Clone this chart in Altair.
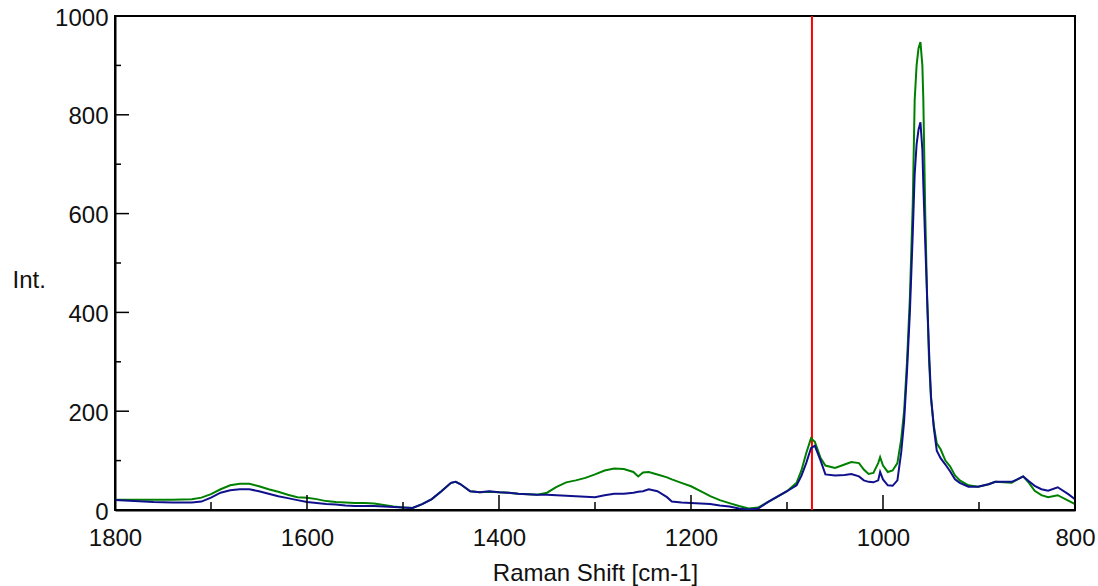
import altair as alt
import pandas as pd

# Raman shift grid (cm-1) and intensities of the two spectra
shift = [1800, 1780, 1760, 1740, 1720, 1710, 1700, 1690, 1680, 1670, 1660, 1650, 1640, 1630,
         1620, 1610, 1600, 1590, 1580, 1570, 1560, 1550, 1540, 1530, 1520, 1510, 1500, 1490,
         1480, 1470, 1460, 1450, 1445, 1440, 1430, 1420, 1410, 1400, 1390, 1380, 1370, 1360,
         1350, 1340, 1330, 1320, 1310, 1300, 1290, 1280, 1270, 1260, 1255, 1250, 1244, 1235,
         1225, 1220, 1210, 1200, 1190, 1180, 1170, 1160, 1150, 1140, 1130, 1120, 1110, 1100,
         1090, 1085, 1080, 1075, 1071, 1065, 1060, 1050, 1040, 1033, 1025, 1020, 1015, 1010,
         1005, 1003, 1000, 995, 990, 985, 981, 978, 975, 972, 969, 967, 965, 963, 961, 959,
         958, 956, 954, 952, 950, 947, 944, 940, 935, 930, 925, 920, 911, 901, 890, 883, 866,
         860, 854, 848, 842, 835, 828, 818, 807, 800]

green = [21, 21, 21, 21, 22, 25, 32, 42, 50, 53, 53, 48, 42, 37,
         31, 26, 25, 22, 18, 16, 15, 14, 14, 13, 10, 7, 5, 4,
         12, 22, 38, 55, 57, 52, 38, 36, 37, 36, 35, 33, 32, 31,
         35, 47, 56, 60, 65, 72, 80, 84, 83, 77, 68, 76, 77, 72,
         66, 62, 55, 48, 38, 28, 20, 14, 8, 3, 5, 16, 27, 38,
         55, 80, 115, 145, 138, 105, 90, 85, 92, 97, 95, 82, 73, 75,
         95, 107, 90, 77, 80, 95, 144, 200, 300, 430, 620, 830, 900, 935, 947, 900,
         832, 600, 427, 300, 225, 170, 135, 123, 100, 88, 70, 60, 50, 47, 52, 57, 55,
         62, 68, 55, 39, 30, 26, 30, 19, 12]

blue = [20, 18, 16, 15, 15, 17, 25, 35, 40, 42, 42, 38, 33, 28,
        24, 20, 16, 14, 12, 11, 9, 8, 8, 8, 7, 6, 5, 4,
        12, 22, 38, 55, 57, 52, 38, 36, 38, 36, 35, 33, 32, 31,
        31, 30, 29, 28, 27, 26, 30, 33, 33, 35, 37, 38, 42, 38,
        26, 17, 15, 14, 13, 12, 9, 7, 3, 1, 3, 16, 27, 38,
        50, 69, 95, 125, 130, 100, 72, 70, 71, 73, 68, 60, 57, 56,
        60, 77, 62, 50, 49, 60, 117, 180, 280, 400, 560, 680, 740, 770, 785, 730,
        660, 540, 427, 320, 230, 165, 120, 105, 92, 78, 62, 55, 47, 47, 52, 57, 57,
        62, 68, 58, 49, 42, 39, 46, 32, 22]

marker_shift = [1074]

x_major = [1800, 1600, 1400, 1200, 1000, 800]
x_minor = [1700, 1500, 1300, 1100, 900]
y_major = [0, 200, 400, 600, 800, 1000]
y_minor = [100, 300, 500, 700, 900]

series_names = ["green", "blue"]
series_colors = ["#008000", "#10108c"]

W, H = 960, 494
FONT = "Liberation Sans"
TXT = "#111111"

df = pd.concat([
    pd.DataFrame({"shift": shift, "int": green, "series": "green"}),
    pd.DataFrame({"shift": shift, "int": blue, "series": "blue"}),
])

xscale = alt.Scale(domain=[1800, 800], nice=False, zero=False)
yscale = alt.Scale(domain=[0, 1000], nice=False, zero=False)

xaxis = alt.Axis(values=x_major, format="d", ticks=False, grid=False, domain=True,
                 domainColor="#000", domainWidth=2, labelFont=FONT, labelFontSize=24,
                 labelColor=TXT, labelPadding=16, labelFlush=False, labelOverlap=False,
                 title="Raman Shift [cm-1]", titleFont=FONT, titleFontSize=24,
                 titleFontWeight="normal", titleColor=TXT, titleBaseline="alphabetic",
                 titleY=70)
yaxis = alt.Axis(values=y_major, format="d", ticks=False, grid=False, domain=True,
                 domainColor="#000", domainWidth=2, labelFont=FONT, labelFontSize=24,
                 labelColor=TXT, labelPadding=7, labelOffset=2, labelFlush=False,
                 labelOverlap=False, title="Int.", titleFont=FONT, titleFontSize=24,
                 titleFontWeight="normal", titleColor=TXT, titleAngle=0, titleAlign="left",
                 titleBaseline="middle", titleX=-103, titleY=264)

base_lines = alt.Chart(df).mark_line(strokeWidth=2, clip=True).encode(
    x=alt.X("shift:Q", scale=xscale, axis=xaxis),
    y=alt.Y("int:Q", scale=yscale, axis=yaxis),
    color=alt.Color("series:N", scale=alt.Scale(domain=series_names, range=series_colors),
                    legend=None),
    order=alt.Order("shift:Q"),
)

red = alt.Chart(pd.DataFrame({"shift": marker_shift})).mark_rule(
    color="#ff0000", strokeWidth=2).encode(
    x=alt.X("shift:Q", scale=xscale), y=alt.value(0), y2=alt.value(H))

def xticks(vals, length):
    return alt.Chart(pd.DataFrame({"v": vals})).mark_rule(color="#000", strokeWidth=1.5).encode(
        x=alt.X("v:Q", scale=xscale), y=alt.value(H), y2=alt.value(H - length))

def yticks(vals, length):
    return alt.Chart(pd.DataFrame({"v": vals})).mark_rule(color="#000", strokeWidth=1.5).encode(
        y=alt.Y("v:Q", scale=yscale), x=alt.value(0), x2=alt.value(length))

chart = alt.layer(
    red,
    base_lines,
    xticks(x_major, 15), xticks(x_minor, 8),
    yticks(y_major, 14), yticks(y_minor, 6),
).properties(
    width=W, height=H,
    autosize=alt.AutoSizeParams(type="none"),
    padding={"left": 115, "top": 16, "right": 23, "bottom": 76},
    background="white",
).configure_view(stroke="#000", strokeWidth=2)

chart.save("out.html", embed_options={"renderer": "svg", "actions": False})
